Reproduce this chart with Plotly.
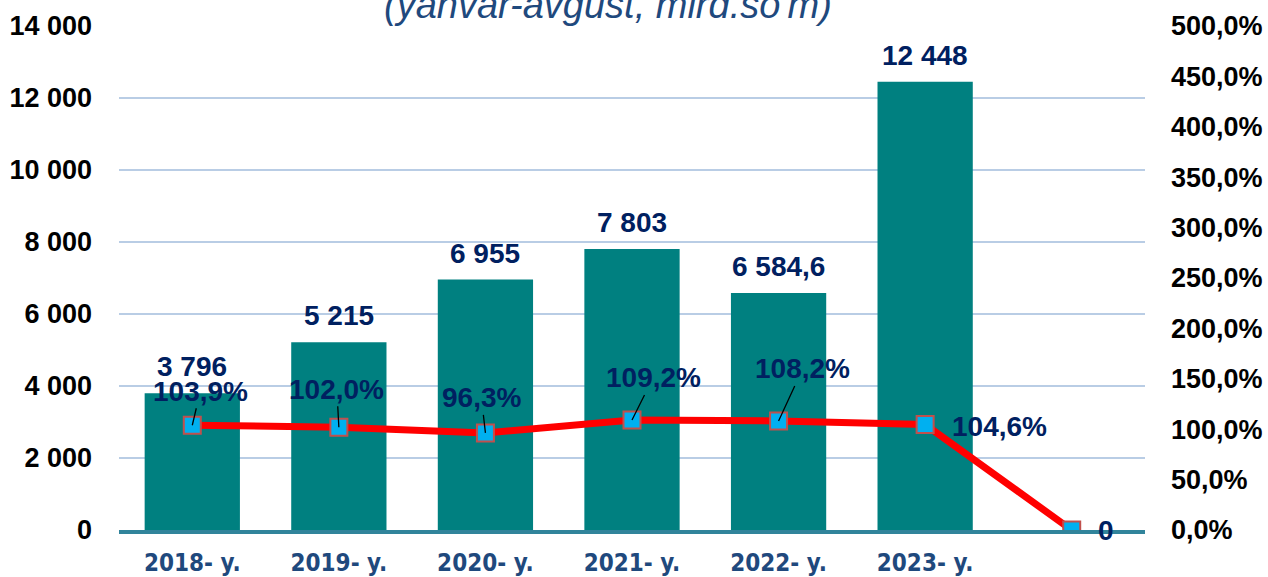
import plotly.graph_objects as go

categories = ["2018- y.", "2019- y.", "2020- y.", "2021- y.", "2022- y.", "2023- y.", " "]
bar_values = [3796, 5215, 6955, 7803, 6584.6, 12448, None]
bar_labels = ["3 796", "5 215", "6 955", "7 803", "6 584,6", "12 448", ""]
growth = [103.9, 102.0, 96.3, 109.2, 108.2, 104.6, 0]
growth_labels = ["103,9%", "102,0%", "96,3%", "109,2%", "108,2%", "104,6%", "0"]

left_ticks = [0, 2000, 4000, 6000, 8000, 10000, 12000, 14000]
left_tick_text = ["0", "2 000", "4 000", "6 000", "8 000", "10 000", "12 000", "14 000"]
right_ticks = [0, 50, 100, 150, 200, 250, 300, 350, 400, 450, 500]
right_tick_text = ["0,0%", "50,0%", "100,0%", "150,0%", "200,0%", "250,0%", "300,0%",
                   "350,0%", "400,0%", "450,0%", "500,0%"]

title_text = "(yanvar-avgust, mlrd.so'm)"

NAVY = "#002060"
BLUE = "#1F497D"
LABEL_FONT = "Liberation Sans"

fig = go.Figure()
fig.add_trace(go.Bar(
    x=categories, y=bar_values, marker=dict(color="#008080", line=dict(width=0)),
    width=0.65, showlegend=False, hoverinfo="skip"))
fig.add_trace(go.Scatter(
    x=categories, y=growth, yaxis="y2", mode="lines+markers",
    line=dict(color="#FF0000", width=7),
    marker=dict(symbol="square", size=17, color="#00B0F0",
                line=dict(color="#C0504D", width=2)),
    showlegend=False, hoverinfo="skip"))

annotations = []
for c, v, t in zip(categories, bar_values, bar_labels):
    if v is None:
        continue
    annotations.append(dict(x=c, y=v, xref="x", yref="y", text=t, showarrow=False,
                            yanchor="bottom", yshift=9,
                            font=dict(family=LABEL_FONT, size=28, color=NAVY, weight="bold")))

offsets = [(8, -34), (-2, -38), (-4, -35), (21, -42), (24, -52), None, None]
shifts = [None, None, None, None, None, (74, -2), (34, 0)]
for i, (c, v, t) in enumerate(zip(categories, growth, growth_labels)):
    f = dict(family=LABEL_FONT, size=28, color=NAVY, weight="bold")
    if offsets[i] is not None:
        ax, ay = offsets[i]
        annotations.append(dict(x=c, y=v, xref="x", yref="y2", text=t, showarrow=True,
                                arrowhead=0, arrowwidth=1.3, arrowcolor="black",
                                ax=ax, ay=ay, standoff=0, startstandoff=0, font=f))
    else:
        xs, ys = shifts[i]
        annotations.append(dict(x=c, y=v, xref="x", yref="y2", text=t, showarrow=False,
                                xshift=xs, yshift=ys, font=f))

annotations.append(dict(x=0.4766, y=1.042, xref="paper", yref="paper", text="<i>" + title_text + "</i>",
                        showarrow=False, yanchor="middle",
                        font=dict(family="Liberation Sans", size=38, color=BLUE)))

fig.update_layout(
    width=1268, height=577,
    margin=dict(l=119, r=123, t=26, b=47),
    paper_bgcolor="white", plot_bgcolor="white",
    bargap=0.35,
    xaxis=dict(
        type="category", categoryorder="array", categoryarray=categories,
        showline=True, linecolor="#31849B", linewidth=4, showgrid=False,
        ticks="", ticklabelstandoff=8, automargin=False,
        tickfont=dict(family="DejaVu Sans Condensed, Liberation Sans", size=24, color=BLUE, weight="bold"),
    ),
    yaxis=dict(
        range=[0, 14000], tickvals=left_ticks, ticktext=left_tick_text,
        showgrid=True, gridcolor="#B9CDE5", gridwidth=1.5, zeroline=False,
        ticks="", ticklabelstandoff=26, automargin=False,
        tickfont=dict(family="Liberation Sans", size=27, color="black", weight="bold"),
    ),
    yaxis2=dict(
        range=[0, 500], tickvals=right_ticks, ticktext=right_tick_text,
        overlaying="y", side="right", showgrid=False, zeroline=False,
        ticks="", ticklabelstandoff=25, automargin=False,
        tickfont=dict(family="Liberation Sans", size=27, color="black", weight="bold"),
    ),
    annotations=annotations,
)

fig.write_html("out.html", config={"displayModeBar": False},
               post_script="document.body.style.margin='0px';")
